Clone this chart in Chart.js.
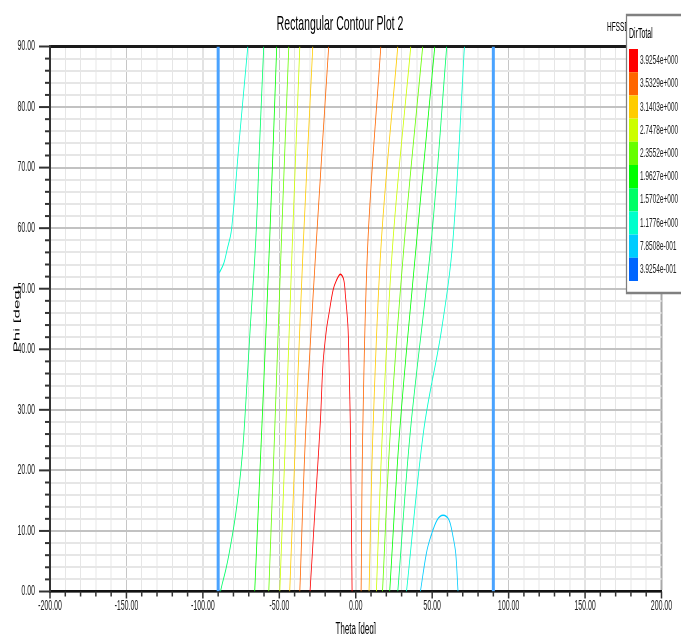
<!DOCTYPE html>
<html>
<head>
<meta charset="utf-8">
<title>Rectangular Contour Plot 2</title>
<script src="https://cdn.jsdelivr.net/npm/chart.js@4.4.1/dist/chart.umd.min.js"></script>
<style>
  html, body { margin: 0; padding: 0; background: #fff; overflow: hidden; }
  /* plot is laid out at double width, then squeezed back horizontally */
  #wrap { width: 1362px; height: 634px; transform: scaleX(0.5); transform-origin: 0 0; }
</style>
</head>
<body>
<div id="wrap"><canvas id="plot" width="1362" height="634"></canvas></div>
<script>
const FONT = "'Liberation Sans', Arial, sans-serif";

const plotTitle = 'Rectangular Contour Plot 2';
const designName = 'HFSSDesign1';
const keyTitle = 'DirTotal';

// contour levels, highest first
const levelLabels = ['3.9254e+000', '3.5329e+000', '3.1403e+000', '2.7478e+000', '2.3552e+000',
                     '1.9627e+000', '1.5702e+000', '1.1776e+000', '7.8508e-001', '3.9254e-001'];
const levelColors = ['#ff0000', '#ff6600', '#ffcc00', '#ccff00', '#66ff00',
                     '#00ff00', '#00ff66', '#00ffcc', '#00ccff', '#0066ff'];
const edgeColor = '#4aa3ff';

// labelled ticks
const thetaLabels = [-200, -150, -100, -50, 0, 50, 100, 150, 200];
const phiLabels = [0, 10, 20, 30, 40, 50, 60, 70, 80, 90];

// contour traces as [theta, phi]
const redLoop = [[-29.9, 0], [-26.5, 14.2], [-23.1, 28.3], [-21.4, 37.7], [-19.2, 43.2], [-17.5, 45.9],
                 [-14.8, 49.8], [-12.6, 51.4], [-10.0, 52.4], [-7.8, 51.4], [-6.7, 48.7], [-5.7, 45.9],
                 [-5.0, 43.2], [-4.4, 37.7], [-3.5, 26.7], [-2.4, 0]];
const orangeLeft = [[-17.7, 90], [-25.7, 58.1], [-32.7, 26.7], [-36.6, 0]];
const orangeRight = [[16.4, 90], [8.0, 58.1], [4.6, 26.7], [3.5, 0]];
const amberLeft = [[-28.1, 90], [-34.2, 58.1], [-39.2, 26.7], [-43.2, 0]];
const amberRight = [[27.5, 90], [16.8, 58.1], [11.3, 26.7], [8.7, 0]];
const yellowLeft = [[-36.6, 90], [-41.4, 58.1], [-45.8, 26.7], [-49.7, 0]];
const yellowRight = [[36.0, 90], [24.4, 58.1], [17.5, 26.7], [13.5, 0]];
const limeLeft = [[-43.8, 90], [-48.6, 58.1], [-53.0, 26.7], [-56.9, 0]];
const limeRight = [[43.8, 90], [31.9, 58.1], [22.7, 26.7], [17.5, 0]];
const greenLeft = [[-51.7, 90], [-56.3, 58.1], [-61.5, 26.7], [-66.1, 0]];
const greenRight = [[51.7, 90], [39.9, 58.1], [28.8, 26.7], [22.2, 0]];
const springLeft = [[-60.2, 90], [-62.8, 74.5], [-65.4, 58.1], [-69.1, 43.2], [-72.6, 28.3], [-74.1, 22.9],
                    [-76.3, 17.3], [-79.1, 11.8], [-82.8, 6.3], [-85.0, 3.6], [-87.2, 1.4], [-88.5, 0]];
const springRight = [[59.5, 90], [49.5, 58.1], [35.8, 26.7], [27.5, 0]];
const cyanLeft = [[-70.6, 90], [-76.2, 74.5], [-81.3, 59.7], [-84.2, 56.4], [-86.3, 54.2], [-89.5, 52.5]];
const cyanRight = [[71.1, 90], [63.6, 58.1], [56.1, 43.2], [44.5, 26.7], [33.2, 0]];
const skyArc = [[42.3, 0], [46.2, 6.3], [49.1, 9.1], [53.2, 11.8], [57.1, 12.6], [61.0, 11.8],
                [63.6, 9.1], [65.4, 6.3], [66.9, 0]];
const blueLeft = [[-90, 0], [-90, 90]];
const blueRight = [[90, 0], [90, 90]];

// trace + level index
const traces = [
  [blueLeft, 9], [blueRight, 9], [skyArc, 8],
  [cyanLeft, 7], [cyanRight, 7], [springLeft, 6], [springRight, 6],
  [greenLeft, 5], [greenRight, 5], [limeLeft, 4], [limeRight, 4],
  [yellowLeft, 3], [yellowRight, 3], [amberLeft, 2], [amberRight, 2],
  [orangeLeft, 1], [orangeRight, 1], [redLoop, 0]
];

const datasets = traces.map(([pts, lvl]) => {
  const edge = pts === blueLeft || pts === blueRight;
  return {
    data: pts.map(([x, y]) => ({ x, y })),
    showLine: true,
    borderColor: edge ? edgeColor : levelColors[lvl],
    borderWidth: edge ? 6 : 1.6,
    pointRadius: 0,
    tension: 0.35,
    fill: false
  };
});

// short/long tick marks along both axes
const tickMarks = {
  id: 'tickMarks',
  afterDraw(chart) {
    const { ctx, chartArea, scales: { x, y } } = chart;
    ctx.save();
    ctx.strokeStyle = '#333';
    ctx.lineWidth = 2;
    y.ticks.forEach(t => {
      const py = y.getPixelForValue(t.value);
      const len = Math.round(t.value) % 10 === 0 ? 22 : 10;
      ctx.beginPath();
      ctx.moveTo(chartArea.left - len, py);
      ctx.lineTo(chartArea.left, py);
      ctx.stroke();
    });
    ctx.lineWidth = 3;
    x.ticks.forEach(t => {
      const px = x.getPixelForValue(t.value);
      const len = Math.round(t.value) % 50 === 0 ? 7 : 5;
      ctx.beginPath();
      ctx.moveTo(px, chartArea.bottom);
      ctx.lineTo(px, chartArea.bottom + len);
      ctx.stroke();
    });
    ctx.restore();
  }
};

// title, design stamp and colour key
const frame = {
  id: 'frame',
  afterDraw(chart) {
    const { ctx } = chart;
    ctx.save();
    ctx.fillStyle = '#000';
    ctx.textBaseline = 'alphabetic';
    ctx.textAlign = 'center';
    ctx.font = `21px ${FONT}`;
    ctx.fillText(plotTitle, 680, 30);

    ctx.textAlign = 'left';
    ctx.font = `13px ${FONT}`;
    ctx.fillText(designName, 1214, 31);

    ctx.fillStyle = '#fff';
    ctx.fillRect(1252, 15, 130, 278);
    ctx.strokeStyle = '#808080';
    ctx.lineWidth = 2.5;
    ctx.strokeRect(1253, 15, 130, 278);

    ctx.fillStyle = '#000';
    ctx.font = `14px ${FONT}`;
    ctx.fillText(keyTitle, 1258, 38);

    const top = 49, h = 23.2;
    ctx.font = `13px ${FONT}`;
    ctx.textBaseline = 'middle';
    levelLabels.forEach((lab, i) => {
      ctx.fillStyle = levelColors[i];
      ctx.fillRect(1258, top + i * h, 18, h);
      ctx.fillStyle = '#222';
      ctx.fillText(lab, 1280, top + i * h + h / 2);
    });
    ctx.restore();
  }
};

Chart.defaults.font.family = FONT;

new Chart(document.getElementById('plot'), {
  type: 'scatter',
  data: { datasets },
  options: {
    responsive: false,
    animation: false,
    devicePixelRatio: 1,
    layout: { padding: { top: 46.5, right: 39, bottom: 0, left: 0 } },
    plugins: {
      legend: { display: false },
      tooltip: { enabled: false }
    },
    scales: {
      x: {
        type: 'linear',
        min: -200,
        max: 200,
        afterFit: s => { s.height = 42.5; },
        ticks: {
          stepSize: 10,
          autoSkip: false,
          maxRotation: 0,
          padding: 6,
          color: '#222',
          font: { size: 14 },
          callback: v => thetaLabels.includes(Math.round(v)) ? v.toFixed(2) : ''
        },
        grid: {
          drawTicks: false,
          color: c => {
            const v = Math.round(c.tick.value);
            if (v === 200) return '#a8a8a8';
            return v % 50 === 0 ? '#c6c6c6' : '#e6e6e6';
          },
          lineWidth: c => Math.round(c.tick.value) === 200 ? 4 : 2
        },
        border: { color: '#111', width: 2.5 },
        title: {
          display: true,
          text: 'Theta [deg]',
          color: '#000',
          font: { size: 16, lineHeight: 0.6 },
          padding: { top: 0, bottom: 0 }
        }
      },
      y: {
        type: 'linear',
        min: 0,
        max: 90,
        afterFit: s => { s.width = 100; },
        ticks: {
          stepSize: 2,
          autoSkip: false,
          padding: 30,
          color: '#222',
          font: { size: 14 },
          callback: v => phiLabels.includes(Math.round(v)) ? v.toFixed(2) : ''
        },
        grid: {
          drawTicks: false,
          color: c => {
            const v = Math.round(c.tick.value);
            if (v === 90) return '#1a1a1a';
            return v % 10 === 0 ? '#c2c2c2' : '#e6e6e6';
          },
          lineWidth: c => Math.round(c.tick.value) === 90 ? 3 : 2
        },
        border: { color: '#333', width: 4 },
        title: {
          display: true,
          text: 'Phi [deg]',
          color: '#000',
          font: { size: 17 },
          padding: { top: 24, bottom: 0 }
        }
      }
    }
  },
  plugins: [tickMarks, frame]
});
</script>
</body>
</html>
